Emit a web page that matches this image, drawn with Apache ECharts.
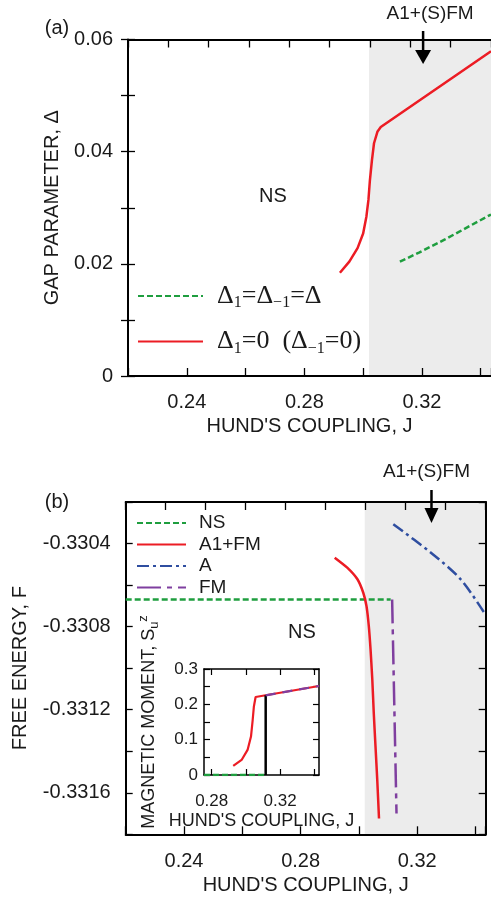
<!DOCTYPE html>
<html><head><meta charset="utf-8">
<script src="https://cdn.jsdelivr.net/npm/echarts@6/dist/echarts.min.js"></script>
<style>html,body{margin:0;padding:0;background:#fff}#c{width:491px;height:899px}</style>
</head><body><div id="c"></div>
<script>
// ---------- data ----------
// panel (a): gap parameter vs Hund's coupling
const gapEqualJ = [0.3125, 0.3190, 0.3280, 0.3435];
const gapEqualD = [0.0204, 0.0220, 0.0244, 0.0288];
const gapRedJ = [0.2921, 0.2953, 0.2981, 0.3000, 0.3011, 0.3018, 0.3023, 0.3030, 0.3037, 0.3049, 0.3060, 0.3435];
const gapRedD = [0.0184, 0.0204, 0.0228, 0.0254, 0.0284, 0.0314, 0.0349, 0.0385, 0.0415, 0.0436, 0.0444, 0.0579];
// panel (b): free energy
const feNSJ = [0.22, 0.3109];
const feNSF = [-0.330669, -0.330669];
const feA1J = [0.2917, 0.2960, 0.2995, 0.3015, 0.3026, 0.3034, 0.3040, 0.3046, 0.3051, 0.3057, 0.3063, 0.3069];
const feA1F = [-0.330468, -0.330516, -0.330572, -0.330637, -0.330701, -0.330798, -0.330911, -0.331056, -0.331216, -0.331378, -0.331539, -0.331724];
const feAJ = [0.3118, 0.3246, 0.3349, 0.3434];
const feAF = [-0.330307, -0.330443, -0.330572, -0.330742];
const feFMJ = [0.3114, 0.3129];
const feFMF = [-0.330669, -0.3317];
// inset: magnetic moment
const mNSJ = [0.2755, 0.3116];
const mNSM = [0, 0];
const mA1J = [0.2926, 0.2975, 0.3010, 0.3030, 0.3040, 0.3047, 0.3057, 0.3428];
const mA1M = [0.0256, 0.0426, 0.0710, 0.1088, 0.1563, 0.1940, 0.2207, 0.2520];
const mFMJ = [0.3116, 0.3428];
const mFMM = [0.2255, 0.2520];
const mJumpJ = [0.3116, 0.3116];
const mJumpM = [0, 0.2255];
// phase region / annotations
const shadeStart = [0.302, 0.302];
const arrowJ = [0.3204, 0.3249];
// tick labels
const xLabelsMain = [0.24, 0.28, 0.32];
const yLabelsA = [0, 0.02, 0.04, 0.06];
const yLabelsB = [-0.3316, -0.3312, -0.3308, -0.3304];
const xLabelsInset = [0.28, 0.32];
const xTicksInset = [0.28, 0.30, 0.32, 0.34];
const yLabelsInset = [0, 0.1, 0.2, 0.3];

// ---------- chart ----------
const SANS = 'Liberation Sans';
const SERIF = 'Liberation Serif';
const TXT = '#1a1a1a';
const C = {green: '#1f9e3f', red: '#ec1c24', blue: '#2f4ea0', purple: '#7f3f9f'};
const pair = (xs, ys) => xs.map((x, i) => [x, ys[i]]);
const chart = echarts.init(document.getElementById('c'));

const axisLine = w => ({show: true, onZero: false, lineStyle: {color: '#000', width: w}});
function frameX(grid, pos, len, w) {
  return {type: 'value', gridIndex: grid, position: pos, min: 0, max: 9, interval: 1, z: 3,
    axisLine: axisLine(w), axisTick: {inside: true, length: len, lineStyle: {color: '#000', width: 1.3}},
    axisLabel: {show: false}, splitLine: {show: false}};
}

const LA = 'Δ1=Δ-1=Δ', LB = 'Δ1=0 (Δ-1=0)';
const richLegend = {};
richLegend[LA] = '{d|Δ}{s|1}{d|=Δ}{s|−1}{d|=Δ}';
richLegend[LB] = '{d|Δ}{s|1}{d|=0  (Δ}{s|−1}{d|=0)}';

function line(name, xi, yi, data, color, width, type, z, smooth) {
  return {name, type: 'line', xAxisIndex: xi, yAxisIndex: yi, data, symbol: 'none', showSymbol: false,
    smooth: smooth || false,
    lineStyle: {color, width, type}, itemStyle: {color}, z: z || 5, animation: false, clip: true};
}
function shade(xi, yi, from, to, y0) {
  return {name: 'shade' + xi, type: 'line', xAxisIndex: xi, yAxisIndex: yi, data: [[from, y0]], symbol: 'none',
    lineStyle: {width: 0, opacity: 0}, z: 1, animation: false,
    markArea: {silent: true, itemStyle: {color: '#ececec', opacity: 1}, data: [[{xAxis: from}, {xAxis: to}]]}};
}

const option = {
  animation: false,
  backgroundColor: '#fff',
  grid: [
    {left: 128, top: 39.5, width: 364, height: 336.5},
    {left: 125.7, top: 502, width: 360, height: 332.3},
    {left: 204, top: 669, width: 115, height: 106}
  ],
  xAxis: [
    {type: 'value', gridIndex: 0, min: 0.22, max: 0.3435, interval: 0.02, z: 3,
      axisLine: axisLine(2), axisTick: {inside: true, length: 8, lineStyle: {color: '#000', width: 1.3}},
      axisLabel: {customValues: xLabelsMain, fontSize: 20, fontFamily: SANS, color: TXT, margin: 16},
      splitLine: {show: false},
      name: "HUND'S COUPLING, J", nameLocation: 'middle', nameGap: 40,
      nameTextStyle: {fontSize: 20, fontFamily: SANS, color: TXT}},
    frameX(0, 'top', 8, 2),
    {type: 'value', gridIndex: 1, min: 0.22, max: 0.3435, interval: 0.02, z: 3,
      axisLine: axisLine(2), axisTick: {inside: true, length: 8, lineStyle: {color: '#000', width: 1.3}},
      axisLabel: {customValues: xLabelsMain, fontSize: 20, fontFamily: SANS, color: TXT, margin: 17},
      splitLine: {show: false},
      name: "HUND'S COUPLING, J", nameLocation: 'middle', nameGap: 41,
      nameTextStyle: {fontSize: 20, fontFamily: SANS, color: TXT}},
    frameX(1, 'top', 8, 2),
    {type: 'value', gridIndex: 2, min: 0.2755, max: 0.3428, z: 3,
      axisLine: axisLine(1.5), axisTick: {inside: true, length: 6, customValues: xTicksInset, lineStyle: {color: '#000', width: 1.2}},
      axisLabel: {customValues: xLabelsInset, fontSize: 17, fontFamily: SANS, color: TXT, margin: 18},
      splitLine: {show: false},
      name: "HUND'S COUPLING, J", nameLocation: 'middle', nameGap: 37,
      nameTextStyle: {fontSize: 18, fontFamily: SANS, color: TXT}},
    {type: 'value', gridIndex: 2, position: 'top', min: 0.2755, max: 0.3428, z: 3,
      axisLine: axisLine(1.5), axisTick: {inside: true, length: 6, customValues: xTicksInset, lineStyle: {color: '#000', width: 1.2}},
      axisLabel: {show: false}, splitLine: {show: false}}
  ],
  yAxis: [
    {type: 'value', gridIndex: 0, min: 0, max: 0.06, interval: 0.01, z: 3,
      axisLine: axisLine(2), axisTick: {inside: true, length: 7, lineStyle: {color: '#000', width: 1.3}},
      axisLabel: {customValues: yLabelsA, fontSize: 20, fontFamily: SANS, color: TXT, margin: 15},
      splitLine: {show: false},
      name: 'GAP PARAMETER, Δ', nameLocation: 'middle', nameRotate: 90, nameGap: 66,
      nameTextStyle: {fontSize: 20, fontFamily: SANS, color: TXT}},
    {type: 'value', gridIndex: 0, position: 'right', min: 0, max: 0.06, interval: 0.01, z: 3,
      axisLine: {show: false}, axisTick: {show: true, inside: true, length: 7, lineStyle: {color: '#000', width: 1.3}},
      axisLabel: {show: false}, splitLine: {show: false}},
    {type: 'value', gridIndex: 1, min: -0.3318, max: -0.3302, interval: 0.0002, z: 3,
      axisLine: axisLine(2), axisTick: {inside: true, length: 7, lineStyle: {color: '#000', width: 1.3}},
      axisLabel: {customValues: yLabelsB, fontSize: 20, fontFamily: SANS, color: TXT, margin: 15},
      splitLine: {show: false},
      name: 'FREE ENERGY, F', nameLocation: 'middle', nameRotate: 90, nameGap: 95,
      nameTextStyle: {fontSize: 20, fontFamily: SANS, color: TXT}},
    {type: 'value', gridIndex: 1, position: 'right', min: -0.3318, max: -0.3302, interval: 0.0002, z: 3,
      axisLine: axisLine(2), axisTick: {inside: true, length: 7, lineStyle: {color: '#000', width: 1.3}},
      axisLabel: {show: false}, splitLine: {show: false}},
    {type: 'value', gridIndex: 2, min: 0, max: 0.3, interval: 0.05, z: 3,
      axisLine: axisLine(1.5), axisTick: {inside: true, length: 6, lineStyle: {color: '#000', width: 1.2}},
      axisLabel: {customValues: yLabelsInset, fontSize: 17, fontFamily: SANS, color: TXT, margin: 6},
      splitLine: {show: false},
      name: 'MAGNETIC MOMENT, S{sub|u}{sup|z}', nameLocation: 'middle', nameRotate: 90, nameGap: 43,
      nameTextStyle: {fontSize: 18, fontFamily: SANS, color: TXT, lineHeight: 24,
        rich: {sub: {fontSize: 13, fontFamily: SANS, color: TXT, verticalAlign: 'bottom', lineHeight: 12},
               sup: {fontSize: 13, fontFamily: SANS, color: TXT, verticalAlign: 'top', lineHeight: 12}}}},
    {type: 'value', gridIndex: 2, position: 'right', min: 0, max: 0.3, interval: 0.05, z: 3,
      axisLine: axisLine(1.5), axisTick: {inside: true, length: 6, lineStyle: {color: '#000', width: 1.2}},
      axisLabel: {show: false}, splitLine: {show: false}}
  ],
  legend: [
    {orient: 'vertical', left: 137, top: 283, padding: 0, itemWidth: 65, itemHeight: 14, itemGap: 17.5,
      data: [LA, LB], selectedMode: false, formatter: n => richLegend[n],
      itemStyle: {opacity: 0},
      textStyle: {color: TXT, padding: [0, 0, 0, 9],
        rich: {d: {fontFamily: SERIF, fontSize: 26, color: TXT, lineHeight: 30},
               s: {fontFamily: SERIF, fontSize: 16, color: TXT, lineHeight: 16, verticalAlign: 'bottom'}}}},
    {orient: 'vertical', left: 136, top: 513, padding: 0, itemWidth: 49, itemHeight: 14, itemGap: 1.5,
      data: ['NS', 'A1+FM', 'A', 'FM'], selectedMode: false,
      itemStyle: {opacity: 0},
      textStyle: {color: TXT, fontFamily: SANS, fontSize: 19, lineHeight: 20, padding: [0, 0, 0, 8]}}
  ],
  series: [
    shade(0, 0, shadeStart[0], 0.3435, 0),
    shade(2, 2, shadeStart[1], 0.3435, -0.3318),
    line(LA, 0, 0, pair(gapEqualJ, gapEqualD), C.green, 2.5, [6, 3]),
    line(LB, 0, 0, pair(gapRedJ, gapRedD), C.red, 2.5, 'solid'),
    line('NS', 2, 2, pair(feNSJ, feNSF), C.green, 2.5, [6, 3]),
    line('A1+FM', 2, 2, pair(feA1J, feA1F), C.red, 2.5, 'solid', 5, 0.2),
    line('A', 2, 2, pair(feAJ, feAF), C.blue, 2.5, [12, 4, 3, 4], 5, 0.3),
    line('FM', 2, 2, pair(feFMJ, feFMF), C.purple, 2.5, [24, 6, 5, 6]),
    line('inset NS', 4, 4, pair(mNSJ, mNSM), C.green, 2.5, [6, 3], 6),
    line('inset A1+FM', 4, 4, pair(mA1J, mA1M), C.red, 2.2, 'solid', 6),
    line('inset FM', 4, 4, pair(mFMJ, mFMM), C.purple, 2.2, [10, 7], 7),
    line('inset jump', 4, 4, pair(mJumpJ, mJumpM), '#000', 2.5, 'solid', 6)
  ]
};
chart.setOption(option);

// annotations (positions of arrows follow the data axes)
const ax = chart.convertToPixel({xAxisIndex: 0}, arrowJ[0]);
const bx = chart.convertToPixel({xAxisIndex: 2}, arrowJ[1]);
function arrow(x, y0, y1, hy, hw) {
  return [
    {type: 'line', shape: {x1: x, y1: y0, x2: x, y2: hy + 1}, style: {stroke: '#000', lineWidth: 2.5}, z: 20},
    {type: 'polygon', shape: {points: [[x - hw, hy], [x + hw, hy], [x, y1]]}, style: {fill: '#000'}, z: 20}
  ];
}
const textStyle = (t, x, y, size) => ({type: 'text', x, y, z: 20,
  style: {text: t, fill: TXT, font: size + 'px "Liberation Sans"', textAlign: 'center', textVerticalAlign: 'middle'}});
chart.setOption({graphic: [
  textStyle('(a)', 57, 28, 20),
  textStyle('(b)', 57, 502, 20),
  textStyle('A1+(S)FM', ax + 7, 14, 19),
  textStyle('A1+(S)FM', bx - 5, 472, 19),
  textStyle('NS', 273, 196, 20),
  textStyle('NS', 302, 632, 20),
  ...arrow(ax, 31, 64, 50, 8),
  ...arrow(bx, 490, 523, 508, 7)
]});
</script></body></html>
